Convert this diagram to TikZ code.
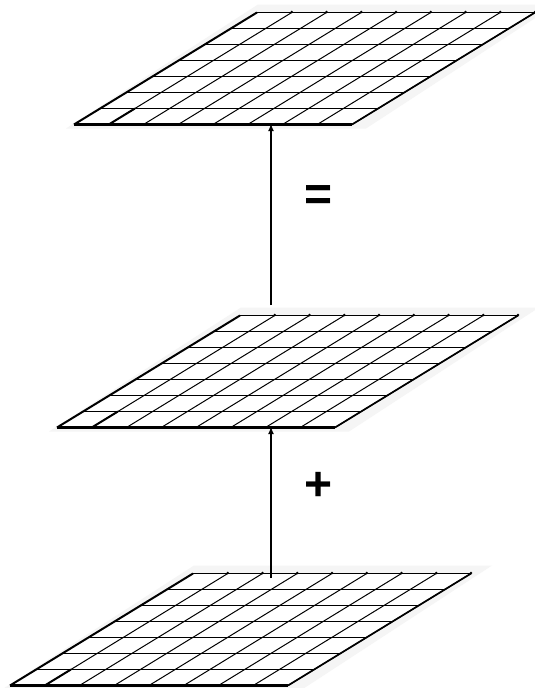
\documentclass[tikz,border=0pt]{standalone}
\usepackage{fontspec}
\setmainfont{Liberation Sans}
\usetikzlibrary{arrows.meta}
\tikzset{
  gridline/.style={line width=1.2pt},
  diagline/.style={line width=1.0pt},
  edgeline/.style={line width=2.6pt},
  flowarrow/.style={line width=1.2pt,-{Latex[length=7pt,width=6pt]}},
  opsign/.style={font=\fontsize{48}{48}\selectfont\bfseries, inner sep=0pt},
  pics/layer/.style={code={
    \fill[black!4] (-8,4) -- (292,4) -- (482,-120) -- (184,-120) -- cycle;
    \fill[white] (0,0) -- (278,0) -- (461,-112) -- (183,-112) -- cycle;
    \foreach \i in {1,...,7} \draw[gridline] ({183*\i/7},{-16*\i}) -- ++(278,0);
    \foreach \j in {1,...,8} \draw[diagline] ({278*\j/8},0) -- ++(183,-112);
    \draw[edgeline] (0,0) -- (278,0);
    \draw[line width=2pt] (0,0) -- (183,-112);
    \draw[line width=1.7pt] (278,0) -- (461,-112);
    \draw[line width=2pt] ({278/8},0) -- ({278/8+183/7},-16);
    \foreach \j in {1,...,8} \fill ({278*\j/8+183},-112.5) circle (1.3);
  }}
}
\begin{document}
\begin{tikzpicture}[x=1pt,y=-1pt]
  \useasboundingbox[fill=white] (0,0) rectangle (535,688);
  \pic at (74,124.5) {layer};
  \pic at (57,427.5) {layer};
  \pic at (10,685.5) {layer};
  \coordinate (topin) at (271,124);
  \coordinate (midout) at (271,305);
  \coordinate (midin) at (271,427);
  \coordinate (botout) at (271,578);
  \draw[flowarrow] (midout) -- (topin);
  \draw[flowarrow] (botout) -- (midin);
  \node[opsign] (eq) at (319,198) {=};
  \node[opsign] (plus) at (319,486) {+};
\end{tikzpicture}
\end{document}
